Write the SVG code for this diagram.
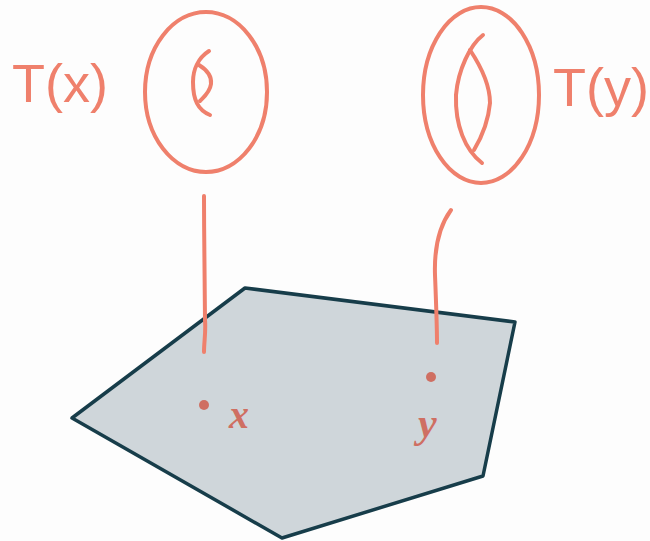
<svg xmlns="http://www.w3.org/2000/svg" width="650" height="541" viewBox="0 0 650 541">
<style>
.ink{fill:none;stroke:#ef806c;stroke-width:4;stroke-linecap:round;stroke-linejoin:round}
.lbl{font-family:"Liberation Sans",Arial,sans-serif;fill:#ef806c}
.pt{fill:#cf6f62}
.var{font-family:"Liberation Serif","Times New Roman",serif;font-style:italic;font-weight:bold;fill:#cf6f62}
</style>
<rect width="650" height="541" fill="#fdfdfd"/>
<g id="region">
<polygon points="245,288 515,322 483,476 282,538 72,418" fill="#cfd6da" stroke="#173d4a" stroke-width="3.5" stroke-linejoin="round"/>
</g>
<g id="connectors">
<path class="ink" d="M204,196 C204,240 205,290 205,320 C206,332 204,342 204,352"/>
<path class="ink" d="M451,210 C440,225 434,245 435,275 C436,300 437,325 437,343"/>
</g>
<g id="Tx">
<ellipse class="ink" cx="206" cy="92" rx="61" ry="80"/>
<path class="ink" d="M209,51 C198,58 193,70 193,82 C193,100 198,110 210,115"/>
<path class="ink" d="M199,65 C207,70 212,76 211,84 C210,92 204,97 200,101"/>
<text class="lbl" x="12" y="102" font-size="54">T(x)</text>
</g>
<g id="Ty">
<ellipse class="ink" cx="481" cy="95" rx="58" ry="88"/>
<path class="ink" d="M483,35 C470,45 458,70 456,95 C455,125 465,150 482,163"/>
<path class="ink" d="M470,50 C480,65 490,85 490,103 C488,125 480,140 474,150"/>
<text class="lbl" x="553" y="106" font-size="54">T(y)</text>
</g>
<g id="x">
<circle class="pt" cx="204" cy="405" r="5"/>
<text class="var" x="229" y="428" font-size="40">x</text>
</g>
<g id="y">
<circle class="pt" cx="431" cy="377" r="5"/>
<text class="var" x="418" y="437" font-size="42">y</text>
</g>
</svg>
